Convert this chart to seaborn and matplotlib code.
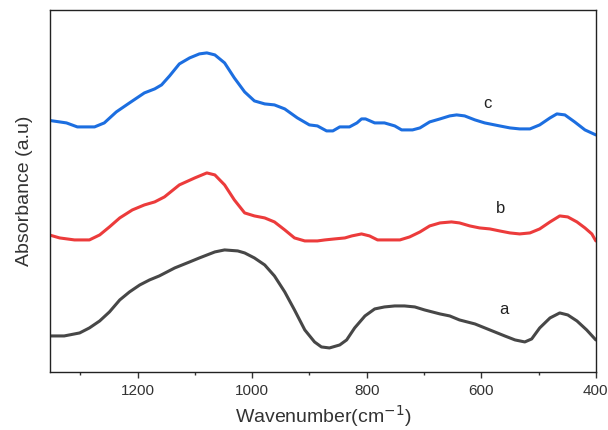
import numpy as np
import pandas as pd
import matplotlib
matplotlib.use("Agg")
import matplotlib.pyplot as plt
import seaborn as sns
from matplotlib.ticker import MultipleLocator

# Wavenumbers (cm^-1) and absorbance (a.u.)
wn_c = [1354, 1324, 1305, 1275, 1258, 1237, 1214, 1188, 1170, 1158, 1144, 1127, 1109, 1092, 1079,
        1065, 1048, 1031, 1013, 996, 978, 961, 943, 921, 900, 886, 870, 859, 847, 830, 817, 809,
        802, 786, 769, 751, 739, 720, 707, 690, 672, 655, 643, 629, 611, 594, 568, 550, 533, 515,
        498, 480, 468, 454, 437, 419, 400]
ab_c = [2.595, 2.57, 2.53, 2.53, 2.57, 2.68, 2.77, 2.87, 2.91, 2.95, 3.04, 3.16, 3.22, 3.26, 3.27,
        3.25, 3.17, 3.02, 2.88, 2.79, 2.76, 2.75, 2.71, 2.62, 2.55, 2.54, 2.49, 2.49, 2.53, 2.53,
        2.57, 2.61, 2.61, 2.57, 2.57, 2.54, 2.50, 2.50, 2.52, 2.58, 2.61, 2.64, 2.65, 2.64, 2.60,
        2.57, 2.54, 2.52, 2.51, 2.51, 2.55, 2.62, 2.66, 2.65, 2.58, 2.50, 2.45]

wn_b = [1354, 1336, 1310, 1284, 1266, 1249, 1231, 1209, 1188, 1170, 1153, 1127, 1100, 1079, 1065,
        1048, 1031, 1013, 996, 978, 961, 943, 926, 908, 886, 873, 856, 838, 826, 809, 795, 781,
        760, 742, 725, 707, 690, 672, 652, 638, 620, 603, 585, 568, 550, 533, 515, 498, 480, 463,
        449, 433, 419, 407, 400]
ab_b = [1.45, 1.42, 1.40, 1.40, 1.45, 1.53, 1.62, 1.70, 1.75, 1.78, 1.83, 1.95, 2.02, 2.07, 2.05,
        1.95, 1.80, 1.67, 1.64, 1.62, 1.58, 1.50, 1.42, 1.39, 1.39, 1.40, 1.41, 1.42, 1.44, 1.46,
        1.44, 1.40, 1.40, 1.40, 1.43, 1.48, 1.54, 1.57, 1.58, 1.57, 1.54, 1.52, 1.51, 1.49, 1.47,
        1.46, 1.47, 1.51, 1.58, 1.64, 1.63, 1.58, 1.52, 1.46, 1.39]

wn_a = [1354, 1328, 1301, 1284, 1266, 1249, 1231, 1214, 1196, 1179, 1162, 1135, 1109, 1092, 1065,
        1048, 1025, 1013, 996, 978, 961, 943, 926, 908, 891, 879, 865, 847, 835, 821, 803, 786,
        769, 751, 734, 716, 699, 672, 655, 638, 611, 585, 559, 541, 524, 512, 498, 480, 463, 449,
        433, 416, 400]
ab_a = [0.44, 0.44, 0.47, 0.52, 0.59, 0.68, 0.80, 0.88, 0.95, 1.00, 1.04, 1.12, 1.18, 1.22, 1.28,
        1.30, 1.29, 1.27, 1.22, 1.15, 1.04, 0.88, 0.70, 0.50, 0.38, 0.33, 0.32, 0.35, 0.40, 0.52,
        0.64, 0.71, 0.73, 0.74, 0.74, 0.73, 0.70, 0.66, 0.64, 0.60, 0.56, 0.50, 0.44, 0.40, 0.38,
        0.41, 0.52, 0.62, 0.67, 0.65, 0.59, 0.50, 0.40]

series_names = ["a", "b", "c"]
colors = {"a": "#474747", "b": "#ec3b3b", "c": "#1c6ee0"}
label_pos = {"a": (560, 0.70), "b": (566, 1.71), "c": (590, 2.76)}

df = pd.concat([
    pd.DataFrame({"wn": wn_a, "ab": ab_a, "s": "a"}),
    pd.DataFrame({"wn": wn_b, "ab": ab_b, "s": "b"}),
    pd.DataFrame({"wn": wn_c, "ab": ab_c, "s": "c"}),
], ignore_index=True)

sns.set_style("ticks")
plt.rcParams["font.family"] = ["Liberation Sans", "DejaVu Sans"]

fig = plt.figure(figsize=(6.08, 4.30), dpi=100)
ax = fig.add_axes([0.082, 0.135, 0.898, 0.842])

sns.lineplot(data=df, x="wn", y="ab", hue="s", palette=colors, linewidth=2.2,
             legend=False, ax=ax, sort=False, estimator=None)
for ln in ax.get_lines():
    ln.set_solid_joinstyle("round")
    ln.set_solid_capstyle("round")

for s in series_names:
    x, y = label_pos[s]
    ax.text(x, y, s, fontsize=12, color="#222222", ha="center", va="center")

ax.set_xlim(1353, 400)
ax.set_ylim(0.08, 3.70)
ax.xaxis.set_major_locator(MultipleLocator(200))
ax.xaxis.set_minor_locator(MultipleLocator(100))
ax.set_yticks([])
ax.tick_params(axis="x", which="major", direction="out", length=4, width=1,
               labelsize=11, labelcolor="#333333", color="#333333", pad=5)
ax.tick_params(axis="x", which="minor", direction="out", length=2.5, width=1, color="#333333")
for sp in ax.spines.values():
    sp.set_color("#222222")
    sp.set_linewidth(1.0)

ax.set_xlabel("Wavenumber(cm$^{-1}$)", fontsize=14, color="#333333", labelpad=3)
ax.set_ylabel("Absorbance (a.u)", fontsize=14, color="#333333", labelpad=12)

fig.savefig("out.png", dpi=100)
